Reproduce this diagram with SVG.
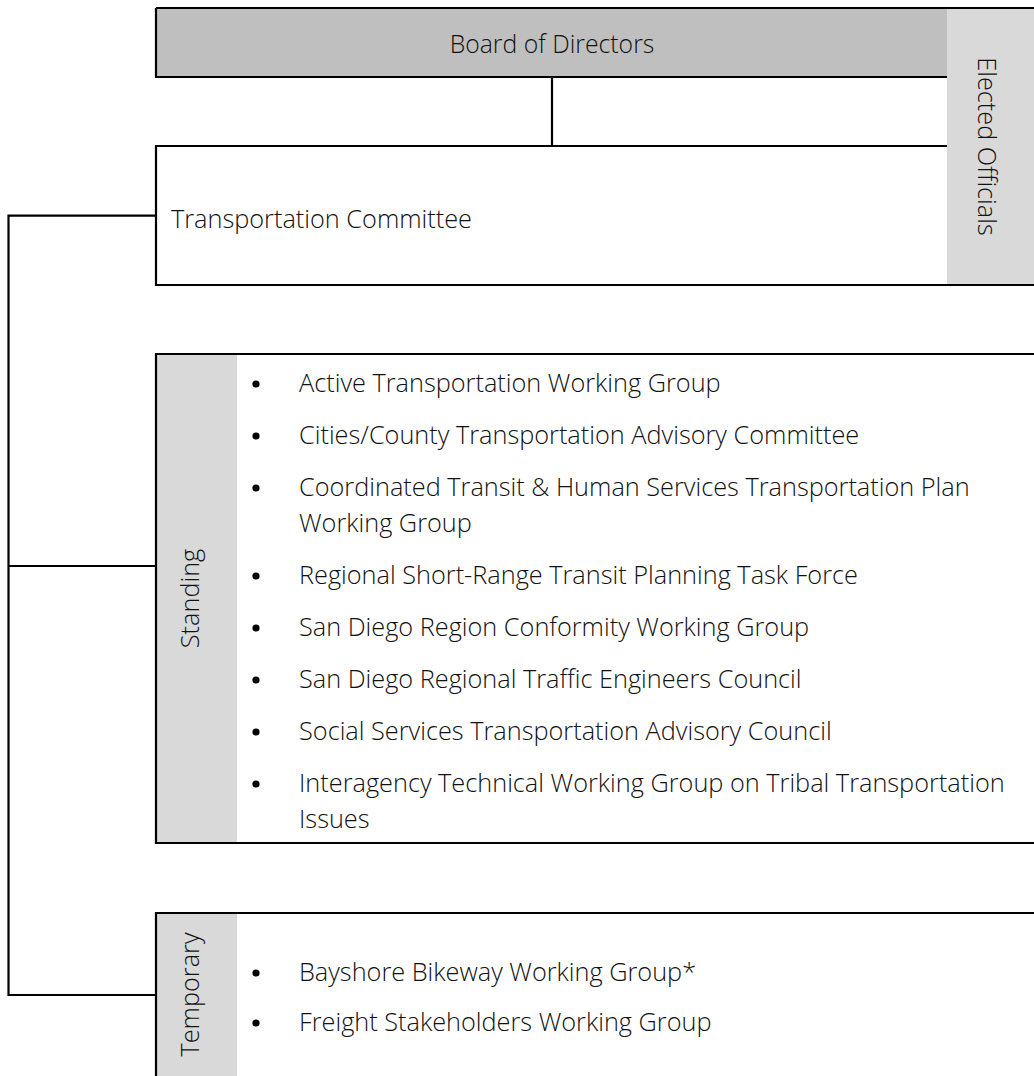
<svg xmlns="http://www.w3.org/2000/svg" width="1034" height="1076" viewBox="0 0 1034 1076">
<style>
text{font-family:"Open Sans","Noto Sans","Liberation Sans",sans-serif;font-size:25.3px;font-weight:300;fill:#111}
.ln{stroke:#000;stroke-width:2.2;fill:none}
.bul{fill:#000}
</style>
<rect x="0" y="0" width="1034" height="1076" fill="#fff"/>
<g id="board">
<rect x="156" y="8" width="791" height="69" fill="#bfbfbf"/>
<text x="552" y="53" text-anchor="middle" style="font-size:24.8px">Board of Directors</text>
</g>
<g id="elected">
<rect x="947" y="8" width="87" height="277" fill="#d9d9d9"/>
<text transform="translate(986,146.5) rotate(90)" y="8" text-anchor="middle">Elected Officials</text>
</g>
<g id="transportation-committee">
<text x="171" y="228">Transportation Committee</text>
</g>
<g id="standing">
<rect x="157" y="354" width="80" height="489" fill="#d9d9d9"/>
<text transform="translate(191,598.5) rotate(-90)" y="8" text-anchor="middle">Standing</text>
<g class="bul">
<circle cx="256" cy="384" r="3.6"/>
<circle cx="256" cy="436" r="3.6"/>
<circle cx="256" cy="488" r="3.6"/>
<circle cx="256" cy="576" r="3.6"/>
<circle cx="256" cy="628" r="3.6"/>
<circle cx="256" cy="680" r="3.6"/>
<circle cx="256" cy="732" r="3.6"/>
<circle cx="256" cy="784" r="3.6"/>
</g>
<text x="299" y="392">Active Transportation Working Group</text>
<text x="299" y="444">Cities/County Transportation Advisory Committee</text>
<text x="299" y="496">Coordinated Transit &amp; Human Services Transportation Plan</text>
<text x="299" y="532">Working Group</text>
<text x="299" y="584">Regional Short-Range Transit Planning Task Force</text>
<text x="299" y="636">San Diego Region Conformity Working Group</text>
<text x="299" y="688">San Diego Regional Traffic Engineers Council</text>
<text x="299" y="740">Social Services Transportation Advisory Council</text>
<text x="299" y="792">Interagency Technical Working Group on Tribal Transportation</text>
<text x="299" y="828">Issues</text>
</g>
<g id="temporary">
<rect x="157" y="913" width="80" height="163" fill="#d9d9d9"/>
<text transform="translate(191,994.5) rotate(-90)" y="8" text-anchor="middle">Temporary</text>
<g class="bul">
<circle cx="256" cy="973" r="3.6"/>
<circle cx="256" cy="1023" r="3.6"/>
</g>
<text x="299" y="981">Bayshore Bikeway Working Group*</text>
<text x="299" y="1031">Freight Stakeholders Working Group</text>
</g>
<g id="borders">
<path class="ln" d="M156,8 H1034"/>
<path class="ln" d="M156,8 V77 H947"/>
<path class="ln" d="M947,146 H156 V285 H1034"/>
<path class="ln" d="M1034,354 H156 V843 H1034"/>
<path class="ln" d="M1034,913 H156 V1076"/>
</g>
<g id="connectors">
<path class="ln" d="M552,77 V146"/>
<path class="ln" d="M156,215.7 H8.5 V995 H156"/>
<path class="ln" d="M8.5,566 H156"/>
</g>
</svg>
